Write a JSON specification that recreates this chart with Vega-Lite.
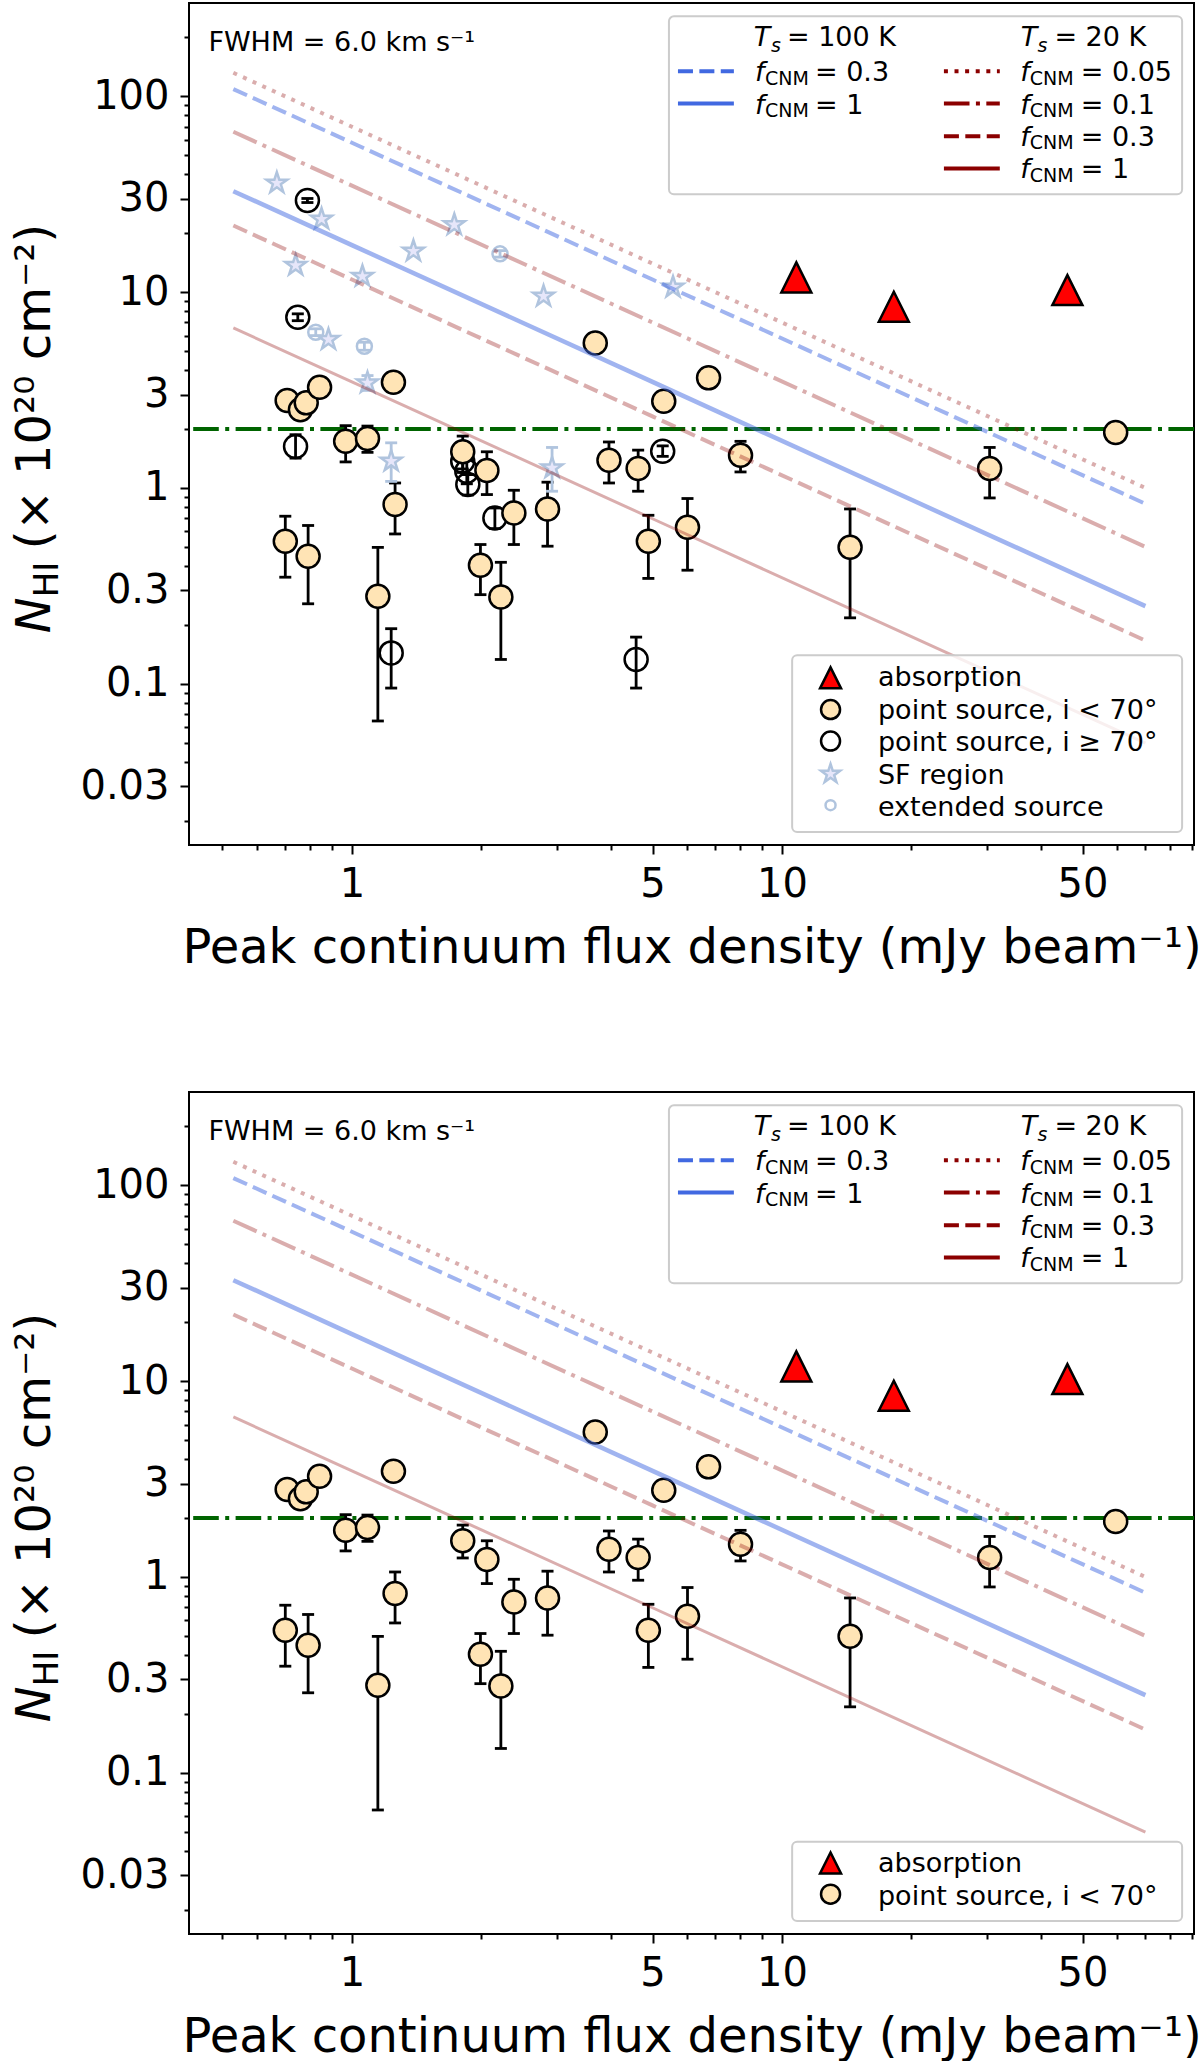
{
  "$schema": "https://vega.github.io/schema/vega-lite/v6.json",
  "background": "white",
  "padding": {"left": 10, "top": 2, "right": 0, "bottom": 0},
  "config": {
    "font": "DejaVu Sans",
    "view": {"stroke": "black", "strokeWidth": 2},
    "axis": {"grid": false, "domain": false, "tickColor": "black", "tickWidth": 2, "labelColor": "black", "titleColor": "black", "titleFontWeight": "normal", "labelFontSize": 40, "titleFontSize": 48, "labelOverlap": false, "labelFlush": false, "labelBound": false},
    "text": {"color": "black"}
  },
  "datasets": {
    "one": [{}],
    "sources": [
      {"type": "SF", "S": 0.669, "N": 36.1},
      {"type": "SF", "S": 0.85, "N": 23.6},
      {"type": "SF", "S": 0.74, "N": 13.7},
      {"type": "SF", "S": 1.058, "N": 12.05},
      {"type": "SF", "S": 1.39, "N": 16.2},
      {"type": "SF", "S": 1.73, "N": 22.1},
      {"type": "SF", "S": 2.79, "N": 9.53},
      {"type": "SF", "S": 0.882, "N": 5.73},
      {"type": "SF", "S": 1.087, "N": 3.44, "lo": 3.15, "hi": 3.75},
      {"type": "SF", "S": 5.58, "N": 10.6},
      {"type": "SF", "S": 1.234, "N": 1.37, "lo": 1.08, "hi": 1.7},
      {"type": "SF", "S": 2.92, "N": 1.265, "lo": 0.962, "hi": 1.61},
      {"type": "extended", "S": 2.21, "N": 15.7, "lo": 15.1, "hi": 16.3},
      {"type": "extended", "S": 0.824, "N": 6.24, "lo": 6.0, "hi": 6.5},
      {"type": "extended", "S": 1.069, "N": 5.29, "lo": 5.05, "hi": 5.55},
      {"type": "point_hi", "S": 0.788, "N": 29.4, "lo": 28.7, "hi": 30.1},
      {"type": "point_hi", "S": 0.7485, "N": 7.44, "lo": 7.15, "hi": 7.75},
      {"type": "point_hi", "S": 0.7395, "N": 1.63, "lo": 1.42, "hi": 1.87},
      {"type": "point_hi", "S": 1.234, "N": 0.1437, "lo": 0.095, "hi": 0.191},
      {"type": "point_hi", "S": 2.15, "N": 0.703, "lo": 0.62, "hi": 0.79},
      {"type": "point_hi", "S": 1.81, "N": 1.369, "lo": 1.2, "hi": 1.55},
      {"type": "point_hi", "S": 1.85, "N": 1.217, "lo": 1.05, "hi": 1.4},
      {"type": "point_hi", "S": 1.86, "N": 1.04, "lo": 0.92, "hi": 1.17},
      {"type": "point_hi", "S": 4.58, "N": 0.133, "lo": 0.095, "hi": 0.173},
      {"type": "point_hi", "S": 5.28, "N": 1.54, "lo": 1.45, "hi": 1.64},
      {"type": "point_lo", "S": 0.707, "N": 2.8},
      {"type": "point_lo", "S": 0.759, "N": 2.51},
      {"type": "point_lo", "S": 0.783, "N": 2.72},
      {"type": "point_lo", "S": 0.841, "N": 3.27},
      {"type": "point_lo", "S": 1.249, "N": 3.47},
      {"type": "point_lo", "S": 3.68, "N": 5.5},
      {"type": "point_lo", "S": 5.31, "N": 2.77},
      {"type": "point_lo", "S": 6.75, "N": 3.65},
      {"type": "point_lo", "S": 59.7, "N": 1.92},
      {"type": "point_lo", "S": 0.967, "N": 1.73, "lo": 1.358, "hi": 2.08},
      {"type": "point_lo", "S": 1.087, "N": 1.79, "lo": 1.52, "hi": 2.07},
      {"type": "point_lo", "S": 1.81, "N": 1.53, "lo": 1.25, "hi": 1.84},
      {"type": "point_lo", "S": 2.06, "N": 1.227, "lo": 0.925, "hi": 1.53},
      {"type": "point_lo", "S": 1.26, "N": 0.822, "lo": 0.582, "hi": 1.06},
      {"type": "point_lo", "S": 0.7, "N": 0.534, "lo": 0.35, "hi": 0.717},
      {"type": "point_lo", "S": 0.791, "N": 0.448, "lo": 0.256, "hi": 0.643},
      {"type": "point_lo", "S": 1.149, "N": 0.28, "lo": 0.0645, "hi": 0.497},
      {"type": "point_lo", "S": 1.99, "N": 0.403, "lo": 0.285, "hi": 0.514},
      {"type": "point_lo", "S": 2.22, "N": 0.277, "lo": 0.133, "hi": 0.417},
      {"type": "point_lo", "S": 2.38, "N": 0.745, "lo": 0.514, "hi": 0.973},
      {"type": "point_lo", "S": 2.85, "N": 0.781, "lo": 0.504, "hi": 1.07},
      {"type": "point_lo", "S": 3.96, "N": 1.385, "lo": 1.06, "hi": 1.717},
      {"type": "point_lo", "S": 4.63, "N": 1.256, "lo": 0.962, "hi": 1.56},
      {"type": "point_lo", "S": 8.01, "N": 1.469, "lo": 1.207, "hi": 1.73},
      {"type": "point_lo", "S": 30.4, "N": 1.256, "lo": 0.889, "hi": 1.61},
      {"type": "point_lo", "S": 4.89, "N": 0.534, "lo": 0.345, "hi": 0.725},
      {"type": "point_lo", "S": 6.03, "N": 0.63, "lo": 0.38, "hi": 0.883},
      {"type": "point_lo", "S": 14.4, "N": 0.498, "lo": 0.217, "hi": 0.781},
      {"type": "absorption", "S": 10.8, "N": 11.9},
      {"type": "absorption", "S": 18.2, "N": 8.42},
      {"type": "absorption", "S": 46.1, "N": 10.25}
    ],
    "models": [
      {"model": "20K_0.05", "S": 0.53, "N": 132}, {"model": "20K_0.05", "S": 1, "N": 70}, {"model": "20K_0.05", "S": 5, "N": 14}, {"model": "20K_0.05", "S": 20, "N": 3.5}, {"model": "20K_0.05", "S": 70, "N": 1.0},
      {"model": "100K_0.3", "S": 0.53, "N": 109}, {"model": "100K_0.3", "S": 1, "N": 58}, {"model": "100K_0.3", "S": 5, "N": 11.6}, {"model": "100K_0.3", "S": 20, "N": 2.9}, {"model": "100K_0.3", "S": 70, "N": 0.83},
      {"model": "20K_0.1", "S": 0.53, "N": 66}, {"model": "20K_0.1", "S": 1, "N": 35}, {"model": "20K_0.1", "S": 5, "N": 7}, {"model": "20K_0.1", "S": 20, "N": 1.75}, {"model": "20K_0.1", "S": 70, "N": 0.5},
      {"model": "100K_1", "S": 0.53, "N": 32.8}, {"model": "100K_1", "S": 1, "N": 17.4}, {"model": "100K_1", "S": 5, "N": 3.48}, {"model": "100K_1", "S": 20, "N": 0.87}, {"model": "100K_1", "S": 70, "N": 0.249},
      {"model": "20K_0.3", "S": 0.53, "N": 21.9}, {"model": "20K_0.3", "S": 1, "N": 11.6}, {"model": "20K_0.3", "S": 5, "N": 2.32}, {"model": "20K_0.3", "S": 20, "N": 0.58}, {"model": "20K_0.3", "S": 70, "N": 0.166},
      {"model": "20K_1", "S": 0.53, "N": 6.57}, {"model": "20K_1", "S": 1, "N": 3.48}, {"model": "20K_1", "S": 5, "N": 0.696}, {"model": "20K_1", "S": 20, "N": 0.174}, {"model": "20K_1", "S": 70, "N": 0.0497}
    ]
  },
  "spacing": 247,
  "bounds": "flush",
  "vconcat": [
    {
      "width": 1005,
      "height": 842,
      "layer": [
        {"data": {"name": "one"}, "mark": {"type": "rule", "color": "#006400", "strokeWidth": 4, "strokeDash": [25.6, 6.4, 4, 6.4]},
         "encoding": {"y": {"datum": 2, "type": "quantitative", "scale": {"type": "log", "domain": [0.015, 300], "nice": false}}}},
        {"data": {"name": "sources"},
         "transform": [{"filter": "(datum.type == 'point_lo' || datum.type == 'point_hi') && isValid(datum.lo)"}],
         "mark": {"type": "rule", "color": "black", "strokeWidth": 2.8},
         "encoding": {
           "x": {"field": "S", "type": "quantitative", "scale": {"type": "log", "domain": [0.418, 90.8], "nice": false},
                 "axis": {"title": "Peak continuum flux density (mJy beam⁻¹)", "values": [0.5, 0.6, 0.7, 0.8, 0.9, 1, 2, 3, 4, 5, 6, 7, 8, 9, 10, 20, 30, 40, 50, 60, 70, 80, 90], "format": "~g",
                          "labelExpr": "indexof([1, 5, 10, 50], datum.value) >= 0 ? datum.label : ''",
                          "tickSize": {"condition": {"test": "indexof([1, 5, 10, 50], datum.value) >= 0", "value": 9}, "value": 5},
                          "labelPadding": 10, "titlePadding": 20, "labelAngle": 0}},
           "y": {"field": "lo", "type": "quantitative", "scale": {"type": "log", "domain": [0.015, 300], "nice": false},
                 "axis": {"title": null, "values": [0.02, 0.03, 0.04, 0.05, 0.06, 0.07, 0.08, 0.09, 0.1, 0.2, 0.3, 0.4, 0.5, 0.6, 0.7, 0.8, 0.9, 1, 2, 3, 4, 5, 6, 7, 8, 9, 10, 20, 30, 40, 50, 60, 70, 80, 90, 100, 200], "format": "~g",
                          "labelExpr": "indexof([0.03, 0.1, 0.3, 1, 3, 10, 30, 100], datum.value) >= 0 ? datum.label : ''",
                          "tickSize": {"condition": {"test": "indexof([0.03, 0.1, 0.3, 1, 3, 10, 30, 100], datum.value) >= 0", "value": 9}, "value": 5},
                          "labelPadding": 11}},
           "y2": {"field": "hi"}}},
        {"data": {"name": "sources"},
         "transform": [{"filter": "(datum.type == 'point_lo' || datum.type == 'point_hi') && isValid(datum.lo)"}],
         "mark": {"type": "tick", "orient": "horizontal", "color": "black", "size": 12, "thickness": 2.8, "opacity": 1},
         "encoding": {"x": {"field": "S", "type": "quantitative", "scale": {"type": "log", "domain": [0.418, 90.8], "nice": false}},
                      "y": {"field": "lo", "type": "quantitative", "scale": {"type": "log", "domain": [0.015, 300], "nice": false}}}},
        {"data": {"name": "sources"},
         "transform": [{"filter": "(datum.type == 'point_lo' || datum.type == 'point_hi') && isValid(datum.hi)"}],
         "mark": {"type": "tick", "orient": "horizontal", "color": "black", "size": 12, "thickness": 2.8, "opacity": 1},
         "encoding": {"x": {"field": "S", "type": "quantitative", "scale": {"type": "log", "domain": [0.418, 90.8], "nice": false}},
                      "y": {"field": "hi", "type": "quantitative", "scale": {"type": "log", "domain": [0.015, 300], "nice": false}}}},
        {"data": {"name": "sources"},
         "transform": [{"filter": "(datum.type == 'SF' || datum.type == 'extended') && isValid(datum.lo)"}],
         "mark": {"type": "rule", "color": "#b0c4de", "strokeWidth": 2.8},
         "encoding": {"x": {"field": "S", "type": "quantitative", "scale": {"type": "log", "domain": [0.418, 90.8], "nice": false}},
                      "y": {"field": "lo", "type": "quantitative", "scale": {"type": "log", "domain": [0.015, 300], "nice": false}},
                      "y2": {"field": "hi"}}},
        {"data": {"name": "sources"},
         "transform": [{"filter": "(datum.type == 'SF' || datum.type == 'extended') && isValid(datum.lo)"}],
         "mark": {"type": "tick", "orient": "horizontal", "color": "#b0c4de", "size": 12, "thickness": 2.8, "opacity": 1},
         "encoding": {"x": {"field": "S", "type": "quantitative", "scale": {"type": "log", "domain": [0.418, 90.8], "nice": false}},
                      "y": {"field": "lo", "type": "quantitative", "scale": {"type": "log", "domain": [0.015, 300], "nice": false}}}},
        {"data": {"name": "sources"},
         "transform": [{"filter": "(datum.type == 'SF' || datum.type == 'extended') && isValid(datum.hi)"}],
         "mark": {"type": "tick", "orient": "horizontal", "color": "#b0c4de", "size": 12, "thickness": 2.8, "opacity": 1},
         "encoding": {"x": {"field": "S", "type": "quantitative", "scale": {"type": "log", "domain": [0.418, 90.8], "nice": false}},
                      "y": {"field": "hi", "type": "quantitative", "scale": {"type": "log", "domain": [0.015, 300], "nice": false}}}},
        {"data": {"name": "sources"},
         "transform": [{"filter": "datum.type == 'SF'"}],
         "mark": {"type": "point", "shape": "M0,-1L0.2245,-0.309L0.9511,-0.309L0.3633,0.118L0.5878,0.809L0,0.382L-0.5878,0.809L-0.3633,0.118L-0.9511,-0.309L-0.2245,-0.309Z", "filled": true, "fill": "#e6e6fa", "stroke": "#b0c4de", "strokeWidth": 2.5, "size": 484, "opacity": 1},
         "encoding": {"x": {"field": "S", "type": "quantitative", "scale": {"type": "log", "domain": [0.418, 90.8], "nice": false}},
                      "y": {"field": "N", "type": "quantitative", "scale": {"type": "log", "domain": [0.015, 300], "nice": false}}}},
        {"data": {"name": "sources"},
         "transform": [{"filter": "datum.type == 'extended'"}],
         "mark": {"type": "point", "shape": "circle", "filled": false, "color": "#b0c4de", "strokeWidth": 2.5, "size": 225, "opacity": 1},
         "encoding": {"x": {"field": "S", "type": "quantitative", "scale": {"type": "log", "domain": [0.418, 90.8], "nice": false}},
                      "y": {"field": "N", "type": "quantitative", "scale": {"type": "log", "domain": [0.015, 300], "nice": false}}}},
        {"data": {"name": "sources"},
         "transform": [{"filter": "datum.type == 'point_hi'"}],
         "mark": {"type": "point", "shape": "circle", "filled": false, "color": "black", "strokeWidth": 2.5, "size": 529, "opacity": 1},
         "encoding": {"x": {"field": "S", "type": "quantitative", "scale": {"type": "log", "domain": [0.418, 90.8], "nice": false}},
                      "y": {"field": "N", "type": "quantitative", "scale": {"type": "log", "domain": [0.015, 300], "nice": false}}}},
        {"data": {"name": "sources"},
         "transform": [{"filter": "datum.type == 'point_lo'"}],
         "mark": {"type": "point", "shape": "circle", "filled": true, "fill": "#ffe4b5", "stroke": "black", "strokeWidth": 2.5, "size": 529, "opacity": 1},
         "encoding": {"x": {"field": "S", "type": "quantitative", "scale": {"type": "log", "domain": [0.418, 90.8], "nice": false}},
                      "y": {"field": "N", "type": "quantitative", "scale": {"type": "log", "domain": [0.015, 300], "nice": false}}}},
        {"data": {"name": "sources"},
         "transform": [{"filter": "datum.type == 'absorption'"}],
         "mark": {"type": "point", "shape": "M0,-1L-1,1L1,1Z", "filled": true, "fill": "#ff0000", "stroke": "black", "strokeWidth": 2.5, "size": 900, "opacity": 1},
         "encoding": {"x": {"field": "S", "type": "quantitative", "scale": {"type": "log", "domain": [0.418, 90.8], "nice": false}},
                      "y": {"field": "N", "type": "quantitative", "scale": {"type": "log", "domain": [0.015, 300], "nice": false}}}},
        {"data": {"name": "models"}, "transform": [{"filter": "datum.model == '20K_0.05'"}],
         "mark": {"type": "line", "color": "#8b0000", "opacity": 0.32, "strokeWidth": 4, "strokeDash": [4, 6.6], "clip": true},
         "encoding": {"x": {"field": "S", "type": "quantitative", "scale": {"type": "log", "domain": [0.418, 90.8], "nice": false}},
                      "y": {"field": "N", "type": "quantitative", "scale": {"type": "log", "domain": [0.015, 300], "nice": false}}}},
        {"data": {"name": "models"}, "transform": [{"filter": "datum.model == '100K_0.3'"}],
         "mark": {"type": "line", "color": "#4169e1", "opacity": 0.5, "strokeWidth": 4, "strokeDash": [15, 6.4], "clip": true},
         "encoding": {"x": {"field": "S", "type": "quantitative", "scale": {"type": "log", "domain": [0.418, 90.8], "nice": false}},
                      "y": {"field": "N", "type": "quantitative", "scale": {"type": "log", "domain": [0.015, 300], "nice": false}}}},
        {"data": {"name": "models"}, "transform": [{"filter": "datum.model == '20K_0.1'"}],
         "mark": {"type": "line", "color": "#8b0000", "opacity": 0.32, "strokeWidth": 4, "strokeDash": [25.6, 6.4, 4, 6.4], "clip": true},
         "encoding": {"x": {"field": "S", "type": "quantitative", "scale": {"type": "log", "domain": [0.418, 90.8], "nice": false}},
                      "y": {"field": "N", "type": "quantitative", "scale": {"type": "log", "domain": [0.015, 300], "nice": false}}}},
        {"data": {"name": "models"}, "transform": [{"filter": "datum.model == '100K_1'"}],
         "mark": {"type": "line", "color": "#4169e1", "opacity": 0.5, "strokeWidth": 4.5, "clip": true},
         "encoding": {"x": {"field": "S", "type": "quantitative", "scale": {"type": "log", "domain": [0.418, 90.8], "nice": false}},
                      "y": {"field": "N", "type": "quantitative", "scale": {"type": "log", "domain": [0.015, 300], "nice": false}}}},
        {"data": {"name": "models"}, "transform": [{"filter": "datum.model == '20K_0.3'"}],
         "mark": {"type": "line", "color": "#8b0000", "opacity": 0.32, "strokeWidth": 4, "strokeDash": [15, 6.4], "clip": true},
         "encoding": {"x": {"field": "S", "type": "quantitative", "scale": {"type": "log", "domain": [0.418, 90.8], "nice": false}},
                      "y": {"field": "N", "type": "quantitative", "scale": {"type": "log", "domain": [0.015, 300], "nice": false}}}},
        {"data": {"name": "models"}, "transform": [{"filter": "datum.model == '20K_1'"}],
         "mark": {"type": "line", "color": "#8b0000", "opacity": 0.32, "strokeWidth": 3, "clip": true},
         "encoding": {"x": {"field": "S", "type": "quantitative", "scale": {"type": "log", "domain": [0.418, 90.8], "nice": false}},
                      "y": {"field": "N", "type": "quantitative", "scale": {"type": "log", "domain": [0.015, 300], "nice": false}}}},
        {"data": {"name": "one"}, "mark": {"type": "text", "text": "FWHM = 6.0 km s⁻¹", "fontSize": 27, "align": "left", "baseline": "alphabetic"},
         "encoding": {"x": {"datum": 0.4637, "type": "quantitative", "scale": {"type": "log", "domain": [0.418, 90.8], "nice": false}},
                      "y": {"datum": 171.4, "type": "quantitative", "scale": {"type": "log", "domain": [0.015, 300], "nice": false}}}},
        {"data": {"name": "one"}, "mark": {"type": "text", "text": "N", "fontStyle": "italic", "fontSize": 48, "angle": 270, "align": "left", "baseline": "alphabetic"},
         "encoding": {"x": {"datum": 0.1985, "type": "quantitative", "scale": {"type": "log", "domain": [0.418, 90.8], "nice": false}},
                      "y": {"datum": 0.1811, "type": "quantitative", "scale": {"type": "log", "domain": [0.015, 300], "nice": false}}}},
        {"data": {"name": "one"}, "mark": {"type": "text", "text": "HI", "fontSize": 34, "angle": 270, "align": "left", "baseline": "alphabetic"},
         "encoding": {"x": {"datum": 0.2071, "type": "quantitative", "scale": {"type": "log", "domain": [0.418, 90.8], "nice": false}},
                      "y": {"datum": 0.2765, "type": "quantitative", "scale": {"type": "log", "domain": [0.015, 300], "nice": false}}}},
        {"data": {"name": "one"}, "mark": {"type": "text", "text": "(× 10²⁰ cm⁻²)", "fontSize": 48, "angle": 270, "align": "left", "baseline": "alphabetic"},
         "encoding": {"x": {"datum": 0.1985, "type": "quantitative", "scale": {"type": "log", "domain": [0.418, 90.8], "nice": false}},
                      "y": {"datum": 0.4863, "type": "quantitative", "scale": {"type": "log", "domain": [0.015, 300], "nice": false}}}},
        {"data": {"name": "one"}, "mark": {"type": "rect", "fill": "white", "fillOpacity": 0.8, "stroke": "#cccccc", "strokeWidth": 2, "cornerRadius": 5},
         "encoding": {"x": {"datum": 5.46, "type": "quantitative", "scale": {"type": "log", "domain": [0.418, 90.8], "nice": false}}, "x2": {"datum": 85.2},
                      "y": {"datum": 256.6, "type": "quantitative", "scale": {"type": "log", "domain": [0.015, 300], "nice": false}}, "y2": {"datum": 31.6}}},
        {"data": {"name": "one"}, "mark": {"type": "rule", "color": "#4169e1", "strokeWidth": 4, "strokeDash": [15, 6.4]},
         "encoding": {"x": {"datum": 5.73, "type": "quantitative", "scale": {"type": "log", "domain": [0.418, 90.8], "nice": false}}, "x2": {"datum": 7.73},
                      "y": {"datum": 134.3, "type": "quantitative", "scale": {"type": "log", "domain": [0.015, 300], "nice": false}}}},
        {"data": {"name": "one"}, "mark": {"type": "rule", "color": "#4169e1", "strokeWidth": 4},
         "encoding": {"x": {"datum": 5.73, "type": "quantitative", "scale": {"type": "log", "domain": [0.418, 90.8], "nice": false}}, "x2": {"datum": 7.73},
                      "y": {"datum": 91.9, "type": "quantitative", "scale": {"type": "log", "domain": [0.015, 300], "nice": false}}}},
        {"data": {"name": "one"}, "mark": {"type": "rule", "color": "#8b0000", "strokeWidth": 4, "strokeDash": [4, 6.6]},
         "encoding": {"x": {"datum": 23.8, "type": "quantitative", "scale": {"type": "log", "domain": [0.418, 90.8], "nice": false}}, "x2": {"datum": 32.1},
                      "y": {"datum": 134.3, "type": "quantitative", "scale": {"type": "log", "domain": [0.015, 300], "nice": false}}}},
        {"data": {"name": "one"}, "mark": {"type": "rule", "color": "#8b0000", "strokeWidth": 4, "strokeDash": [25.6, 6.4, 4, 6.4]},
         "encoding": {"x": {"datum": 23.8, "type": "quantitative", "scale": {"type": "log", "domain": [0.418, 90.8], "nice": false}}, "x2": {"datum": 32.1},
                      "y": {"datum": 91.9, "type": "quantitative", "scale": {"type": "log", "domain": [0.015, 300], "nice": false}}}},
        {"data": {"name": "one"}, "mark": {"type": "rule", "color": "#8b0000", "strokeWidth": 4, "strokeDash": [15, 6.4]},
         "encoding": {"x": {"datum": 23.8, "type": "quantitative", "scale": {"type": "log", "domain": [0.418, 90.8], "nice": false}}, "x2": {"datum": 32.1},
                      "y": {"datum": 62.6, "type": "quantitative", "scale": {"type": "log", "domain": [0.015, 300], "nice": false}}}},
        {"data": {"name": "one"}, "mark": {"type": "rule", "color": "#8b0000", "strokeWidth": 4},
         "encoding": {"x": {"datum": 23.8, "type": "quantitative", "scale": {"type": "log", "domain": [0.418, 90.8], "nice": false}}, "x2": {"datum": 32.1},
                      "y": {"datum": 42.8, "type": "quantitative", "scale": {"type": "log", "domain": [0.015, 300], "nice": false}}}},
        {"data": {"name": "one"}, "mark": {"type": "text", "text": "T", "fontStyle": "italic", "fontSize": 27, "align": "left", "baseline": "alphabetic"},
         "encoding": {"x": {"datum": 8.6, "type": "quantitative", "scale": {"type": "log", "domain": [0.418, 90.8], "nice": false}},
                      "y": {"datum": 180.3, "type": "quantitative", "scale": {"type": "log", "domain": [0.015, 300], "nice": false}}}},
        {"data": {"name": "one"}, "mark": {"type": "text", "text": "s", "fontStyle": "italic", "fontSize": 19, "align": "left", "baseline": "alphabetic"},
         "encoding": {"x": {"datum": 9.43, "type": "quantitative", "scale": {"type": "log", "domain": [0.418, 90.8], "nice": false}},
                      "y": {"datum": 168, "type": "quantitative", "scale": {"type": "log", "domain": [0.015, 300], "nice": false}}}},
        {"data": {"name": "one"}, "mark": {"type": "text", "text": "= 100 K", "fontSize": 27, "align": "left", "baseline": "alphabetic"},
         "encoding": {"x": {"datum": 10.27, "type": "quantitative", "scale": {"type": "log", "domain": [0.418, 90.8], "nice": false}},
                      "y": {"datum": 180.3, "type": "quantitative", "scale": {"type": "log", "domain": [0.015, 300], "nice": false}}}},
        {"data": {"name": "one"}, "mark": {"type": "text", "text": "T", "fontStyle": "italic", "fontSize": 27, "align": "left", "baseline": "alphabetic"},
         "encoding": {"x": {"datum": 35.9, "type": "quantitative", "scale": {"type": "log", "domain": [0.418, 90.8], "nice": false}},
                      "y": {"datum": 180.3, "type": "quantitative", "scale": {"type": "log", "domain": [0.015, 300], "nice": false}}}},
        {"data": {"name": "one"}, "mark": {"type": "text", "text": "s", "fontStyle": "italic", "fontSize": 19, "align": "left", "baseline": "alphabetic"},
         "encoding": {"x": {"datum": 39.3, "type": "quantitative", "scale": {"type": "log", "domain": [0.418, 90.8], "nice": false}},
                      "y": {"datum": 168, "type": "quantitative", "scale": {"type": "log", "domain": [0.015, 300], "nice": false}}}},
        {"data": {"name": "one"}, "mark": {"type": "text", "text": "= 20 K", "fontSize": 27, "align": "left", "baseline": "alphabetic"},
         "encoding": {"x": {"datum": 43.0, "type": "quantitative", "scale": {"type": "log", "domain": [0.418, 90.8], "nice": false}},
                      "y": {"datum": 180.3, "type": "quantitative", "scale": {"type": "log", "domain": [0.015, 300], "nice": false}}}},
        {"data": {"name": "one"}, "mark": {"type": "text", "text": ["f", "f"], "lineHeight": 32.3, "fontStyle": "italic", "fontSize": 27, "align": "left", "baseline": "alphabetic"},
         "encoding": {"x": {"datum": 8.66, "type": "quantitative", "scale": {"type": "log", "domain": [0.418, 90.8], "nice": false}},
                      "y": {"datum": 119.4, "type": "quantitative", "scale": {"type": "log", "domain": [0.015, 300], "nice": false}}}},
        {"data": {"name": "one"}, "mark": {"type": "text", "text": ["CNM", "CNM"], "lineHeight": 32.3, "fontSize": 19, "align": "left", "baseline": "alphabetic"},
         "encoding": {"x": {"datum": 9.13, "type": "quantitative", "scale": {"type": "log", "domain": [0.418, 90.8], "nice": false}},
                      "y": {"datum": 114.6, "type": "quantitative", "scale": {"type": "log", "domain": [0.015, 300], "nice": false}}}},
        {"data": {"name": "one"}, "mark": {"type": "text", "text": ["= 0.3", "= 1"], "lineHeight": 32.3, "fontSize": 27, "align": "left", "baseline": "alphabetic"},
         "encoding": {"x": {"datum": 11.93, "type": "quantitative", "scale": {"type": "log", "domain": [0.418, 90.8], "nice": false}},
                      "y": {"datum": 119.4, "type": "quantitative", "scale": {"type": "log", "domain": [0.015, 300], "nice": false}}}},
        {"data": {"name": "one"}, "mark": {"type": "text", "text": ["f", "f", "f", "f"], "lineHeight": 32.3, "fontStyle": "italic", "fontSize": 27, "align": "left", "baseline": "alphabetic"},
         "encoding": {"x": {"datum": 35.8, "type": "quantitative", "scale": {"type": "log", "domain": [0.418, 90.8], "nice": false}},
                      "y": {"datum": 119.4, "type": "quantitative", "scale": {"type": "log", "domain": [0.015, 300], "nice": false}}}},
        {"data": {"name": "one"}, "mark": {"type": "text", "text": ["CNM", "CNM", "CNM", "CNM"], "lineHeight": 32.3, "fontSize": 19, "align": "left", "baseline": "alphabetic"},
         "encoding": {"x": {"datum": 37.7, "type": "quantitative", "scale": {"type": "log", "domain": [0.418, 90.8], "nice": false}},
                      "y": {"datum": 114.6, "type": "quantitative", "scale": {"type": "log", "domain": [0.015, 300], "nice": false}}}},
        {"data": {"name": "one"}, "mark": {"type": "text", "text": ["= 0.05", "= 0.1", "= 0.3", "= 1"], "lineHeight": 32.3, "fontSize": 27, "align": "left", "baseline": "alphabetic"},
         "encoding": {"x": {"datum": 49.5, "type": "quantitative", "scale": {"type": "log", "domain": [0.418, 90.8], "nice": false}},
                      "y": {"datum": 119.4, "type": "quantitative", "scale": {"type": "log", "domain": [0.015, 300], "nice": false}}}},
        {"data": {"name": "one"}, "mark": {"type": "rect", "fill": "white", "fillOpacity": 0.8, "stroke": "#cccccc", "strokeWidth": 2, "cornerRadius": 5},
         "encoding": {"x": {"datum": 10.56, "type": "quantitative", "scale": {"type": "log", "domain": [0.418, 90.8], "nice": false}}, "x2": {"datum": 85.2},
                      "y": {"datum": 0.1398, "type": "quantitative", "scale": {"type": "log", "domain": [0.015, 300], "nice": false}}, "y2": {"datum": 0.01746}}},
        {"data": {"name": "one"}, "mark": {"type": "point", "shape": "M0,-1L-1,1L1,1Z", "filled": true, "fill": "#ff0000", "stroke": "black", "strokeWidth": 2.5, "size": 441, "opacity": 1},
         "encoding": {"x": {"datum": 12.97, "type": "quantitative", "scale": {"type": "log", "domain": [0.418, 90.8], "nice": false}},
                      "y": {"datum": 0.1071, "type": "quantitative", "scale": {"type": "log", "domain": [0.015, 300], "nice": false}}}},
        {"data": {"name": "one"}, "mark": {"type": "point", "shape": "circle", "filled": true, "fill": "#ffe4b5", "stroke": "black", "strokeWidth": 2.5, "size": 361, "opacity": 1},
         "encoding": {"x": {"datum": 12.97, "type": "quantitative", "scale": {"type": "log", "domain": [0.418, 90.8], "nice": false}},
                      "y": {"datum": 0.0738, "type": "quantitative", "scale": {"type": "log", "domain": [0.015, 300], "nice": false}}}},
        {"data": {"name": "one"}, "mark": {"type": "point", "shape": "circle", "filled": false, "color": "black", "strokeWidth": 2.5, "size": 361, "opacity": 1},
         "encoding": {"x": {"datum": 12.97, "type": "quantitative", "scale": {"type": "log", "domain": [0.418, 90.8], "nice": false}},
                      "y": {"datum": 0.0509, "type": "quantitative", "scale": {"type": "log", "domain": [0.015, 300], "nice": false}}}},
        {"data": {"name": "one"}, "mark": {"type": "point", "shape": "M0,-1L0.2245,-0.309L0.9511,-0.309L0.3633,0.118L0.5878,0.809L0,0.382L-0.5878,0.809L-0.3633,0.118L-0.9511,-0.309L-0.2245,-0.309Z", "filled": true, "fill": "#e6e6fa", "stroke": "#b0c4de", "strokeWidth": 2.5, "size": 400, "opacity": 1},
         "encoding": {"x": {"datum": 12.97, "type": "quantitative", "scale": {"type": "log", "domain": [0.418, 90.8], "nice": false}},
                      "y": {"datum": 0.0346, "type": "quantitative", "scale": {"type": "log", "domain": [0.015, 300], "nice": false}}}},
        {"data": {"name": "one"}, "mark": {"type": "point", "shape": "circle", "filled": false, "color": "#b0c4de", "strokeWidth": 2.5, "size": 100, "opacity": 1},
         "encoding": {"x": {"datum": 12.97, "type": "quantitative", "scale": {"type": "log", "domain": [0.418, 90.8], "nice": false}},
                      "y": {"datum": 0.02396, "type": "quantitative", "scale": {"type": "log", "domain": [0.015, 300], "nice": false}}}},
        {"data": {"name": "one"}, "mark": {"type": "text", "text": ["absorption", "point source, i < 70°", "point source, i  ≥  70°", "SF region", "extended source"], "lineHeight": 32.5, "fontSize": 27, "align": "left", "baseline": "alphabetic"},
         "encoding": {"x": {"datum": 16.72, "type": "quantitative", "scale": {"type": "log", "domain": [0.418, 90.8], "nice": false}},
                      "y": {"datum": 0.0971, "type": "quantitative", "scale": {"type": "log", "domain": [0.015, 300], "nice": false}}}}
      ]
    },
    {
      "width": 1005,
      "height": 842,
      "layer": [
        {"data": {"name": "one"}, "mark": {"type": "rule", "color": "#006400", "strokeWidth": 4, "strokeDash": [25.6, 6.4, 4, 6.4]},
         "encoding": {"y": {"datum": 2, "type": "quantitative", "scale": {"type": "log", "domain": [0.015, 300], "nice": false}}}},
        {"data": {"name": "sources"},
         "transform": [{"filter": "datum.type == 'point_lo' && isValid(datum.lo)"}],
         "mark": {"type": "rule", "color": "black", "strokeWidth": 2.8},
         "encoding": {
           "x": {"field": "S", "type": "quantitative", "scale": {"type": "log", "domain": [0.418, 90.8], "nice": false},
                 "axis": {"title": "Peak continuum flux density (mJy beam⁻¹)", "values": [0.5, 0.6, 0.7, 0.8, 0.9, 1, 2, 3, 4, 5, 6, 7, 8, 9, 10, 20, 30, 40, 50, 60, 70, 80, 90], "format": "~g",
                          "labelExpr": "indexof([1, 5, 10, 50], datum.value) >= 0 ? datum.label : ''",
                          "tickSize": {"condition": {"test": "indexof([1, 5, 10, 50], datum.value) >= 0", "value": 9}, "value": 5},
                          "labelPadding": 10, "titlePadding": 20, "labelAngle": 0}},
           "y": {"field": "lo", "type": "quantitative", "scale": {"type": "log", "domain": [0.015, 300], "nice": false},
                 "axis": {"title": null, "values": [0.02, 0.03, 0.04, 0.05, 0.06, 0.07, 0.08, 0.09, 0.1, 0.2, 0.3, 0.4, 0.5, 0.6, 0.7, 0.8, 0.9, 1, 2, 3, 4, 5, 6, 7, 8, 9, 10, 20, 30, 40, 50, 60, 70, 80, 90, 100, 200], "format": "~g",
                          "labelExpr": "indexof([0.03, 0.1, 0.3, 1, 3, 10, 30, 100], datum.value) >= 0 ? datum.label : ''",
                          "tickSize": {"condition": {"test": "indexof([0.03, 0.1, 0.3, 1, 3, 10, 30, 100], datum.value) >= 0", "value": 9}, "value": 5},
                          "labelPadding": 11}},
           "y2": {"field": "hi"}}},
        {"data": {"name": "sources"},
         "transform": [{"filter": "datum.type == 'point_lo' && isValid(datum.lo)"}],
         "mark": {"type": "tick", "orient": "horizontal", "color": "black", "size": 12, "thickness": 2.8, "opacity": 1},
         "encoding": {"x": {"field": "S", "type": "quantitative", "scale": {"type": "log", "domain": [0.418, 90.8], "nice": false}},
                      "y": {"field": "lo", "type": "quantitative", "scale": {"type": "log", "domain": [0.015, 300], "nice": false}}}},
        {"data": {"name": "sources"},
         "transform": [{"filter": "datum.type == 'point_lo' && isValid(datum.hi)"}],
         "mark": {"type": "tick", "orient": "horizontal", "color": "black", "size": 12, "thickness": 2.8, "opacity": 1},
         "encoding": {"x": {"field": "S", "type": "quantitative", "scale": {"type": "log", "domain": [0.418, 90.8], "nice": false}},
                      "y": {"field": "hi", "type": "quantitative", "scale": {"type": "log", "domain": [0.015, 300], "nice": false}}}},
        {"data": {"name": "sources"},
         "transform": [{"filter": "datum.type == 'point_lo'"}],
         "mark": {"type": "point", "shape": "circle", "filled": true, "fill": "#ffe4b5", "stroke": "black", "strokeWidth": 2.5, "size": 529, "opacity": 1},
         "encoding": {"x": {"field": "S", "type": "quantitative", "scale": {"type": "log", "domain": [0.418, 90.8], "nice": false}},
                      "y": {"field": "N", "type": "quantitative", "scale": {"type": "log", "domain": [0.015, 300], "nice": false}}}},
        {"data": {"name": "sources"},
         "transform": [{"filter": "datum.type == 'absorption'"}],
         "mark": {"type": "point", "shape": "M0,-1L-1,1L1,1Z", "filled": true, "fill": "#ff0000", "stroke": "black", "strokeWidth": 2.5, "size": 900, "opacity": 1},
         "encoding": {"x": {"field": "S", "type": "quantitative", "scale": {"type": "log", "domain": [0.418, 90.8], "nice": false}},
                      "y": {"field": "N", "type": "quantitative", "scale": {"type": "log", "domain": [0.015, 300], "nice": false}}}},
        {"data": {"name": "models"}, "transform": [{"filter": "datum.model == '20K_0.05'"}],
         "mark": {"type": "line", "color": "#8b0000", "opacity": 0.32, "strokeWidth": 4, "strokeDash": [4, 6.6], "clip": true},
         "encoding": {"x": {"field": "S", "type": "quantitative", "scale": {"type": "log", "domain": [0.418, 90.8], "nice": false}},
                      "y": {"field": "N", "type": "quantitative", "scale": {"type": "log", "domain": [0.015, 300], "nice": false}}}},
        {"data": {"name": "models"}, "transform": [{"filter": "datum.model == '100K_0.3'"}],
         "mark": {"type": "line", "color": "#4169e1", "opacity": 0.5, "strokeWidth": 4, "strokeDash": [15, 6.4], "clip": true},
         "encoding": {"x": {"field": "S", "type": "quantitative", "scale": {"type": "log", "domain": [0.418, 90.8], "nice": false}},
                      "y": {"field": "N", "type": "quantitative", "scale": {"type": "log", "domain": [0.015, 300], "nice": false}}}},
        {"data": {"name": "models"}, "transform": [{"filter": "datum.model == '20K_0.1'"}],
         "mark": {"type": "line", "color": "#8b0000", "opacity": 0.32, "strokeWidth": 4, "strokeDash": [25.6, 6.4, 4, 6.4], "clip": true},
         "encoding": {"x": {"field": "S", "type": "quantitative", "scale": {"type": "log", "domain": [0.418, 90.8], "nice": false}},
                      "y": {"field": "N", "type": "quantitative", "scale": {"type": "log", "domain": [0.015, 300], "nice": false}}}},
        {"data": {"name": "models"}, "transform": [{"filter": "datum.model == '100K_1'"}],
         "mark": {"type": "line", "color": "#4169e1", "opacity": 0.5, "strokeWidth": 4.5, "clip": true},
         "encoding": {"x": {"field": "S", "type": "quantitative", "scale": {"type": "log", "domain": [0.418, 90.8], "nice": false}},
                      "y": {"field": "N", "type": "quantitative", "scale": {"type": "log", "domain": [0.015, 300], "nice": false}}}},
        {"data": {"name": "models"}, "transform": [{"filter": "datum.model == '20K_0.3'"}],
         "mark": {"type": "line", "color": "#8b0000", "opacity": 0.32, "strokeWidth": 4, "strokeDash": [15, 6.4], "clip": true},
         "encoding": {"x": {"field": "S", "type": "quantitative", "scale": {"type": "log", "domain": [0.418, 90.8], "nice": false}},
                      "y": {"field": "N", "type": "quantitative", "scale": {"type": "log", "domain": [0.015, 300], "nice": false}}}},
        {"data": {"name": "models"}, "transform": [{"filter": "datum.model == '20K_1'"}],
         "mark": {"type": "line", "color": "#8b0000", "opacity": 0.32, "strokeWidth": 3, "clip": true},
         "encoding": {"x": {"field": "S", "type": "quantitative", "scale": {"type": "log", "domain": [0.418, 90.8], "nice": false}},
                      "y": {"field": "N", "type": "quantitative", "scale": {"type": "log", "domain": [0.015, 300], "nice": false}}}},
        {"data": {"name": "one"}, "mark": {"type": "text", "text": "FWHM = 6.0 km s⁻¹", "fontSize": 27, "align": "left", "baseline": "alphabetic"},
         "encoding": {"x": {"datum": 0.4637, "type": "quantitative", "scale": {"type": "log", "domain": [0.418, 90.8], "nice": false}},
                      "y": {"datum": 171.4, "type": "quantitative", "scale": {"type": "log", "domain": [0.015, 300], "nice": false}}}},
        {"data": {"name": "one"}, "mark": {"type": "text", "text": "N", "fontStyle": "italic", "fontSize": 48, "angle": 270, "align": "left", "baseline": "alphabetic"},
         "encoding": {"x": {"datum": 0.1985, "type": "quantitative", "scale": {"type": "log", "domain": [0.418, 90.8], "nice": false}},
                      "y": {"datum": 0.1811, "type": "quantitative", "scale": {"type": "log", "domain": [0.015, 300], "nice": false}}}},
        {"data": {"name": "one"}, "mark": {"type": "text", "text": "HI", "fontSize": 34, "angle": 270, "align": "left", "baseline": "alphabetic"},
         "encoding": {"x": {"datum": 0.2071, "type": "quantitative", "scale": {"type": "log", "domain": [0.418, 90.8], "nice": false}},
                      "y": {"datum": 0.2765, "type": "quantitative", "scale": {"type": "log", "domain": [0.015, 300], "nice": false}}}},
        {"data": {"name": "one"}, "mark": {"type": "text", "text": "(× 10²⁰ cm⁻²)", "fontSize": 48, "angle": 270, "align": "left", "baseline": "alphabetic"},
         "encoding": {"x": {"datum": 0.1985, "type": "quantitative", "scale": {"type": "log", "domain": [0.418, 90.8], "nice": false}},
                      "y": {"datum": 0.4863, "type": "quantitative", "scale": {"type": "log", "domain": [0.015, 300], "nice": false}}}},
        {"data": {"name": "one"}, "mark": {"type": "rect", "fill": "white", "fillOpacity": 0.8, "stroke": "#cccccc", "strokeWidth": 2, "cornerRadius": 5},
         "encoding": {"x": {"datum": 5.46, "type": "quantitative", "scale": {"type": "log", "domain": [0.418, 90.8], "nice": false}}, "x2": {"datum": 85.2},
                      "y": {"datum": 256.6, "type": "quantitative", "scale": {"type": "log", "domain": [0.015, 300], "nice": false}}, "y2": {"datum": 31.6}}},
        {"data": {"name": "one"}, "mark": {"type": "rule", "color": "#4169e1", "strokeWidth": 4, "strokeDash": [15, 6.4]},
         "encoding": {"x": {"datum": 5.73, "type": "quantitative", "scale": {"type": "log", "domain": [0.418, 90.8], "nice": false}}, "x2": {"datum": 7.73},
                      "y": {"datum": 134.3, "type": "quantitative", "scale": {"type": "log", "domain": [0.015, 300], "nice": false}}}},
        {"data": {"name": "one"}, "mark": {"type": "rule", "color": "#4169e1", "strokeWidth": 4},
         "encoding": {"x": {"datum": 5.73, "type": "quantitative", "scale": {"type": "log", "domain": [0.418, 90.8], "nice": false}}, "x2": {"datum": 7.73},
                      "y": {"datum": 91.9, "type": "quantitative", "scale": {"type": "log", "domain": [0.015, 300], "nice": false}}}},
        {"data": {"name": "one"}, "mark": {"type": "rule", "color": "#8b0000", "strokeWidth": 4, "strokeDash": [4, 6.6]},
         "encoding": {"x": {"datum": 23.8, "type": "quantitative", "scale": {"type": "log", "domain": [0.418, 90.8], "nice": false}}, "x2": {"datum": 32.1},
                      "y": {"datum": 134.3, "type": "quantitative", "scale": {"type": "log", "domain": [0.015, 300], "nice": false}}}},
        {"data": {"name": "one"}, "mark": {"type": "rule", "color": "#8b0000", "strokeWidth": 4, "strokeDash": [25.6, 6.4, 4, 6.4]},
         "encoding": {"x": {"datum": 23.8, "type": "quantitative", "scale": {"type": "log", "domain": [0.418, 90.8], "nice": false}}, "x2": {"datum": 32.1},
                      "y": {"datum": 91.9, "type": "quantitative", "scale": {"type": "log", "domain": [0.015, 300], "nice": false}}}},
        {"data": {"name": "one"}, "mark": {"type": "rule", "color": "#8b0000", "strokeWidth": 4, "strokeDash": [15, 6.4]},
         "encoding": {"x": {"datum": 23.8, "type": "quantitative", "scale": {"type": "log", "domain": [0.418, 90.8], "nice": false}}, "x2": {"datum": 32.1},
                      "y": {"datum": 62.6, "type": "quantitative", "scale": {"type": "log", "domain": [0.015, 300], "nice": false}}}},
        {"data": {"name": "one"}, "mark": {"type": "rule", "color": "#8b0000", "strokeWidth": 4},
         "encoding": {"x": {"datum": 23.8, "type": "quantitative", "scale": {"type": "log", "domain": [0.418, 90.8], "nice": false}}, "x2": {"datum": 32.1},
                      "y": {"datum": 42.8, "type": "quantitative", "scale": {"type": "log", "domain": [0.015, 300], "nice": false}}}},
        {"data": {"name": "one"}, "mark": {"type": "text", "text": "T", "fontStyle": "italic", "fontSize": 27, "align": "left", "baseline": "alphabetic"},
         "encoding": {"x": {"datum": 8.6, "type": "quantitative", "scale": {"type": "log", "domain": [0.418, 90.8], "nice": false}},
                      "y": {"datum": 180.3, "type": "quantitative", "scale": {"type": "log", "domain": [0.015, 300], "nice": false}}}},
        {"data": {"name": "one"}, "mark": {"type": "text", "text": "s", "fontStyle": "italic", "fontSize": 19, "align": "left", "baseline": "alphabetic"},
         "encoding": {"x": {"datum": 9.43, "type": "quantitative", "scale": {"type": "log", "domain": [0.418, 90.8], "nice": false}},
                      "y": {"datum": 168, "type": "quantitative", "scale": {"type": "log", "domain": [0.015, 300], "nice": false}}}},
        {"data": {"name": "one"}, "mark": {"type": "text", "text": "= 100 K", "fontSize": 27, "align": "left", "baseline": "alphabetic"},
         "encoding": {"x": {"datum": 10.27, "type": "quantitative", "scale": {"type": "log", "domain": [0.418, 90.8], "nice": false}},
                      "y": {"datum": 180.3, "type": "quantitative", "scale": {"type": "log", "domain": [0.015, 300], "nice": false}}}},
        {"data": {"name": "one"}, "mark": {"type": "text", "text": "T", "fontStyle": "italic", "fontSize": 27, "align": "left", "baseline": "alphabetic"},
         "encoding": {"x": {"datum": 35.9, "type": "quantitative", "scale": {"type": "log", "domain": [0.418, 90.8], "nice": false}},
                      "y": {"datum": 180.3, "type": "quantitative", "scale": {"type": "log", "domain": [0.015, 300], "nice": false}}}},
        {"data": {"name": "one"}, "mark": {"type": "text", "text": "s", "fontStyle": "italic", "fontSize": 19, "align": "left", "baseline": "alphabetic"},
         "encoding": {"x": {"datum": 39.3, "type": "quantitative", "scale": {"type": "log", "domain": [0.418, 90.8], "nice": false}},
                      "y": {"datum": 168, "type": "quantitative", "scale": {"type": "log", "domain": [0.015, 300], "nice": false}}}},
        {"data": {"name": "one"}, "mark": {"type": "text", "text": "= 20 K", "fontSize": 27, "align": "left", "baseline": "alphabetic"},
         "encoding": {"x": {"datum": 43.0, "type": "quantitative", "scale": {"type": "log", "domain": [0.418, 90.8], "nice": false}},
                      "y": {"datum": 180.3, "type": "quantitative", "scale": {"type": "log", "domain": [0.015, 300], "nice": false}}}},
        {"data": {"name": "one"}, "mark": {"type": "text", "text": ["f", "f"], "lineHeight": 32.3, "fontStyle": "italic", "fontSize": 27, "align": "left", "baseline": "alphabetic"},
         "encoding": {"x": {"datum": 8.66, "type": "quantitative", "scale": {"type": "log", "domain": [0.418, 90.8], "nice": false}},
                      "y": {"datum": 119.4, "type": "quantitative", "scale": {"type": "log", "domain": [0.015, 300], "nice": false}}}},
        {"data": {"name": "one"}, "mark": {"type": "text", "text": ["CNM", "CNM"], "lineHeight": 32.3, "fontSize": 19, "align": "left", "baseline": "alphabetic"},
         "encoding": {"x": {"datum": 9.13, "type": "quantitative", "scale": {"type": "log", "domain": [0.418, 90.8], "nice": false}},
                      "y": {"datum": 114.6, "type": "quantitative", "scale": {"type": "log", "domain": [0.015, 300], "nice": false}}}},
        {"data": {"name": "one"}, "mark": {"type": "text", "text": ["= 0.3", "= 1"], "lineHeight": 32.3, "fontSize": 27, "align": "left", "baseline": "alphabetic"},
         "encoding": {"x": {"datum": 11.93, "type": "quantitative", "scale": {"type": "log", "domain": [0.418, 90.8], "nice": false}},
                      "y": {"datum": 119.4, "type": "quantitative", "scale": {"type": "log", "domain": [0.015, 300], "nice": false}}}},
        {"data": {"name": "one"}, "mark": {"type": "text", "text": ["f", "f", "f", "f"], "lineHeight": 32.3, "fontStyle": "italic", "fontSize": 27, "align": "left", "baseline": "alphabetic"},
         "encoding": {"x": {"datum": 35.8, "type": "quantitative", "scale": {"type": "log", "domain": [0.418, 90.8], "nice": false}},
                      "y": {"datum": 119.4, "type": "quantitative", "scale": {"type": "log", "domain": [0.015, 300], "nice": false}}}},
        {"data": {"name": "one"}, "mark": {"type": "text", "text": ["CNM", "CNM", "CNM", "CNM"], "lineHeight": 32.3, "fontSize": 19, "align": "left", "baseline": "alphabetic"},
         "encoding": {"x": {"datum": 37.7, "type": "quantitative", "scale": {"type": "log", "domain": [0.418, 90.8], "nice": false}},
                      "y": {"datum": 114.6, "type": "quantitative", "scale": {"type": "log", "domain": [0.015, 300], "nice": false}}}},
        {"data": {"name": "one"}, "mark": {"type": "text", "text": ["= 0.05", "= 0.1", "= 0.3", "= 1"], "lineHeight": 32.3, "fontSize": 27, "align": "left", "baseline": "alphabetic"},
         "encoding": {"x": {"datum": 49.5, "type": "quantitative", "scale": {"type": "log", "domain": [0.418, 90.8], "nice": false}},
                      "y": {"datum": 119.4, "type": "quantitative", "scale": {"type": "log", "domain": [0.015, 300], "nice": false}}}},
        {"data": {"name": "one"}, "mark": {"type": "rect", "fill": "white", "fillOpacity": 0.8, "stroke": "#cccccc", "strokeWidth": 2, "cornerRadius": 5},
         "encoding": {"x": {"datum": 10.56, "type": "quantitative", "scale": {"type": "log", "domain": [0.418, 90.8], "nice": false}}, "x2": {"datum": 85.2},
                      "y": {"datum": 0.0444, "type": "quantitative", "scale": {"type": "log", "domain": [0.015, 300], "nice": false}}, "y2": {"datum": 0.01746}}},
        {"data": {"name": "one"}, "mark": {"type": "point", "shape": "M0,-1L-1,1L1,1Z", "filled": true, "fill": "#ff0000", "stroke": "black", "strokeWidth": 2.5, "size": 441, "opacity": 1},
         "encoding": {"x": {"datum": 12.97, "type": "quantitative", "scale": {"type": "log", "domain": [0.418, 90.8], "nice": false}},
                      "y": {"datum": 0.0346, "type": "quantitative", "scale": {"type": "log", "domain": [0.015, 300], "nice": false}}}},
        {"data": {"name": "one"}, "mark": {"type": "point", "shape": "circle", "filled": true, "fill": "#ffe4b5", "stroke": "black", "strokeWidth": 2.5, "size": 361, "opacity": 1},
         "encoding": {"x": {"datum": 12.97, "type": "quantitative", "scale": {"type": "log", "domain": [0.418, 90.8], "nice": false}},
                      "y": {"datum": 0.02396, "type": "quantitative", "scale": {"type": "log", "domain": [0.015, 300], "nice": false}}}},
        {"data": {"name": "one"}, "mark": {"type": "text", "text": ["absorption", "point source, i < 70°"], "lineHeight": 32.5, "fontSize": 27, "align": "left", "baseline": "alphabetic"},
         "encoding": {"x": {"datum": 16.72, "type": "quantitative", "scale": {"type": "log", "domain": [0.418, 90.8], "nice": false}},
                      "y": {"datum": 0.031, "type": "quantitative", "scale": {"type": "log", "domain": [0.015, 300], "nice": false}}}}
      ]
    }
  ]
}
